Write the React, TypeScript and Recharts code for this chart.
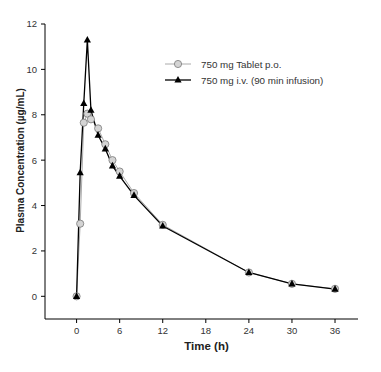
import { LineChart, Line, XAxis, YAxis, Label } from "recharts";

const times = [0, 0.5, 1, 1.5, 2, 3, 4, 5, 6, 8, 12, 24, 30, 36];
const tabletConc = [0, 3.2, 7.65, 8.05, 7.8, 7.4, 6.7, 6.0, 5.5, 4.55, 3.15, 1.05, 0.55, 0.33];
const ivConc = [0, 5.45, 8.5, 11.3, 8.2, 7.1, 6.5, 5.75, 5.3, 4.45, 3.1, 1.05, 0.55, 0.32];
const xTicks = [0, 6, 12, 18, 24, 30, 36];
const yTicks = [0, 2, 4, 6, 8, 10, 12];

const tabletLabel = "750 mg Tablet p.o.";
const ivLabel = "750 mg i.v. (90 min infusion)";

const tabletData = times.map((t, i) => ({ t, c: tabletConc[i] }));
const ivData = times.map((t, i) => ({ t, c: ivConc[i] }));

const FONT = "'Liberation Sans', Arial, sans-serif";
const tick = { fontSize: 9.5, fill: "#333", fontFamily: FONT };

function Circle({ cx, cy }: any) {
  if (cx == null || cy == null) return null;
  return <circle cx={cx} cy={cy} r={3.6} fill="#d4d4d4" stroke="#7a7a7a" strokeWidth={0.8} />;
}

function Tri({ cx, cy }: any) {
  if (cx == null || cy == null) return null;
  return <path d={`M${cx},${cy - 4} L${cx + 3.6},${cy + 2.6} L${cx - 3.6},${cy + 2.6} Z`} fill="#000" />;
}

// legend drawn as a separate overlay so it doesn't eat plot space
function LegendBox() {
  return (
    <svg width={200} height={34} style={{ display: "block" }}>
      <line x1={3} y1={8} x2={29} y2={8} stroke="#aaa" strokeWidth={1} />
      <Circle cx={16} cy={8} />
      <text x={39} y={11.5} fontSize={9.8} fill="#333" fontFamily={FONT}>{tabletLabel}</text>
      <line x1={3} y1={24} x2={29} y2={24} stroke="#000" strokeWidth={1.3} />
      <Tri cx={16} cy={24} />
      <text x={39} y={27.5} fontSize={9.8} fill="#333" fontFamily={FONT}>{ivLabel}</text>
    </svg>
  );
}

export default function App() {
  return (
    <div style={{ position: "absolute", left: 0, top: 0, width: 381, height: 372, background: "#fff" }}>
      <LineChart width={381} height={372} margin={{ top: 24, right: 23, bottom: 23, left: 0 }}>
        <XAxis
          dataKey="t"
          type="number"
          domain={[-4.4, 39.2]}
          ticks={xTicks}
          allowDataOverflow
          tickSize={4}
          tickMargin={4}
          height={30}
          tick={tick}
          stroke="#000"
          tickLine={{ stroke: "#000" }}
        >
          <Label
            content={({ viewBox }: any) => (
              <text
                x={viewBox.x + viewBox.width / 2 + 5}
                y={viewBox.y + 31}
                textAnchor="middle"
                fontSize={11.5}
                fontWeight="bold"
                fill="#222"
                fontFamily={FONT}
              >
                Time (h)
              </text>
            )}
          />
        </XAxis>
        <YAxis
          type="number"
          domain={[-1, 12]}
          ticks={yTicks}
          allowDataOverflow
          width={45}
          tickSize={4}
          tickMargin={4}
          tick={tick}
          stroke="#000"
          tickLine={{ stroke: "#000" }}
        >
          <Label
            content={({ viewBox }: any) => {
              const x = 24;
              const y = viewBox.y + viewBox.height / 2 - 11;
              return (
                <text
                  x={x}
                  y={y}
                  transform={`rotate(-90 ${x} ${y})`}
                  textAnchor="middle"
                  fontSize={10}
                  fontWeight="bold"
                  fill="#222"
                  fontFamily={FONT}
                >
                  Plasma Concentration (µg/mL)
                </text>
              );
            }}
          />
        </YAxis>
        <Line
          data={tabletData}
          dataKey="c"
          name={tabletLabel}
          stroke="#aaa"
          strokeWidth={1}
          dot={<Circle />}
          activeDot={false}
          isAnimationActive={false}
        />
        <Line
          data={ivData}
          dataKey="c"
          name={ivLabel}
          stroke="#000"
          strokeWidth={1.3}
          dot={<Tri />}
          activeDot={false}
          isAnimationActive={false}
        />
      </LineChart>
      <div style={{ position: "absolute", left: 162, top: 56 }}>
        <LegendBox />
      </div>
    </div>
  );
}
